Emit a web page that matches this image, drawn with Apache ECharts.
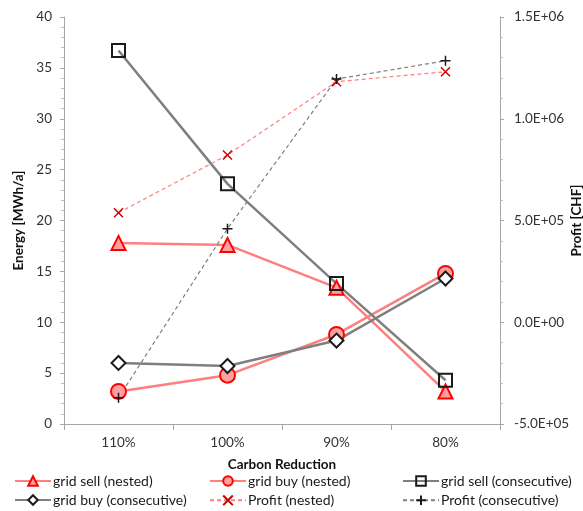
<!DOCTYPE html>
<html><head><meta charset="utf-8">
<script src="https://cdn.jsdelivr.net/npm/echarts@6/dist/echarts.min.js"></script>
<style>html,body{margin:0;padding:0;background:#fff}#c{width:583px;height:511px}</style>
</head><body><div id="c"></div>
<script>
const categories = ['110%', '100%', '90%', '80%'];
const gridSellNested = [17.8, 17.6, 13.4, 3.2];
const gridBuyNested = [3.2, 4.8, 8.8, 14.8];
const gridSellConsecutive = [36.7, 23.6, 13.8, 4.3];
const gridBuyConsecutive = [6.0, 5.7, 8.2, 14.3];
const profitNested = [538000, 822000, 1182000, 1231000];
const profitConsecutive = [-371000, 460000, 1195000, 1285000];
const seriesNames = ['grid sell (nested)', 'grid buy (nested)', 'grid sell (consecutive)',
  'grid buy (consecutive)', 'Profit (nested)', 'Profit (consecutive)'];

const FONT = 'Lato';
function sci(v) {
  if (v === 0) return '0.0E+00';
  const s = v < 0 ? '-' : '';
  const a = Math.abs(v);
  let e = Math.floor(Math.log10(a));
  let m = a / Math.pow(10, e);
  if (m >= 9.95) { m /= 10; e += 1; }
  return s + m.toFixed(1) + 'E' + (e >= 0 ? '+' : '-') + String(Math.abs(e)).padStart(2, '0');
}
const axisLine = { lineStyle: { color: '#a6a6a6', width: 1 } };
const labelStyle = { color: '#333', fontSize: 13.5, fontFamily: FONT };
const nameStyle = { color: '#111', fontSize: 13.5, fontWeight: 'bold', fontFamily: FONT };

const xPath = 'path://M0,0L10,10M10,0L0,10';
const plusPath = 'path://M5,0L5,10M0,5L10,5';

const chart = echarts.init(document.getElementById('c'), null, { renderer: 'canvas' });
const legendPos = [[14, 474], [209, 474], [402, 474], [14, 493], [209, 493], [402, 493]];
const legends = seriesNames.map((n, i) => ({
  data: [n], left: legendPos[i][0], top: legendPos[i][1], itemWidth: 36, itemHeight: 12, itemGap: 0,
  padding: 0, textStyle: { color: '#1a1a1a', fontSize: 14, fontFamily: FONT, padding: [0, 0, 0, -3] }
}));

chart.setOption({
  animation: false,
  backgroundColor: '#fff',
  grid: { left: 64, right: 83, top: 17, bottom: 87, containLabel: false, outerBoundsMode: 'none' },
  legend: legends,
  xAxis: {
    type: 'category', data: categories, boundaryGap: true,
    axisLine: axisLine, axisTick: { show: true, length: 6, lineStyle: { color: '#a6a6a6' } },
    axisLabel: Object.assign({ margin: 12 }, labelStyle),
    name: 'Carbon Reduction', nameLocation: 'middle', nameGap: 34, nameMoveOverlap: false, nameTextStyle: nameStyle
  },
  yAxis: [{
    type: 'value', min: 0, max: 40, interval: 5, position: 'left',
    axisLine: Object.assign({ show: true }, axisLine),
    axisTick: { show: true, length: 4, lineStyle: { color: '#a6a6a6' } },
    minorTick: { show: true, splitNumber: 5, length: 3, lineStyle: { color: '#bfbfbf' } },
    splitLine: { show: false },
    axisLabel: Object.assign({ margin: 12 }, labelStyle),
    name: 'Energy [MWh/a]', nameLocation: 'middle', nameGap: 38, nameMoveOverlap: false, nameRotate: 90, nameTextStyle: nameStyle
  }, {
    type: 'value', min: -500000, max: 1500000, interval: 500000, position: 'right',
    axisLine: Object.assign({ show: true }, axisLine),
    axisTick: { show: true, length: 4, lineStyle: { color: '#a6a6a6' } },
    minorTick: { show: true, splitNumber: 5, length: 3, lineStyle: { color: '#bfbfbf' } },
    splitLine: { show: false },
    axisLabel: Object.assign({ margin: 14, formatter: sci }, labelStyle),
    name: 'Profit [CHF]', nameLocation: 'middle', nameGap: 70, nameMoveOverlap: false, nameRotate: 90, nameTextStyle: nameStyle
  }],
  series: [
    { name: seriesNames[0], type: 'line', data: gridSellNested, yAxisIndex: 0,
      symbol: 'triangle', symbolSize: 14,
      lineStyle: { color: '#ff7f7f', width: 2.5 },
      itemStyle: { color: '#ff9f9f', borderColor: '#ff0000', borderWidth: 2 } },
    { name: seriesNames[1], type: 'line', data: gridBuyNested, yAxisIndex: 0,
      symbol: 'circle', symbolSize: 15,
      lineStyle: { color: '#ff7f7f', width: 2.5 },
      itemStyle: { color: '#ff9f9f', borderColor: '#ff0000', borderWidth: 2 } },
    { name: seriesNames[2], type: 'line', data: gridSellConsecutive, yAxisIndex: 0,
      symbol: 'rect', symbolSize: 13,
      lineStyle: { color: '#7f7f7f', width: 2.5 },
      itemStyle: { color: 'rgba(255,255,255,0)', borderColor: '#1a1a1a', borderWidth: 2 } },
    { name: seriesNames[3], type: 'line', data: gridBuyConsecutive, yAxisIndex: 0,
      symbol: 'diamond', symbolSize: 14,
      lineStyle: { color: '#7f7f7f', width: 2.5 },
      itemStyle: { color: '#ffffff', borderColor: '#1a1a1a', borderWidth: 2 } },
    { name: seriesNames[4], type: 'line', data: profitNested, yAxisIndex: 1,
      symbol: xPath, symbolSize: 9,
      lineStyle: { color: '#ff7f7f', width: 1.2, type: [4, 3] },
      itemStyle: { color: 'none', borderColor: '#cc0000', borderWidth: 1.5 } },
    { name: seriesNames[5], type: 'line', data: profitConsecutive, yAxisIndex: 1,
      symbol: plusPath, symbolSize: 10,
      lineStyle: { color: '#7f7f7f', width: 1.2, type: [4, 3] },
      itemStyle: { color: 'none', borderColor: '#1a1a1a', borderWidth: 1.5 } }
  ]
});
</script></body></html>
